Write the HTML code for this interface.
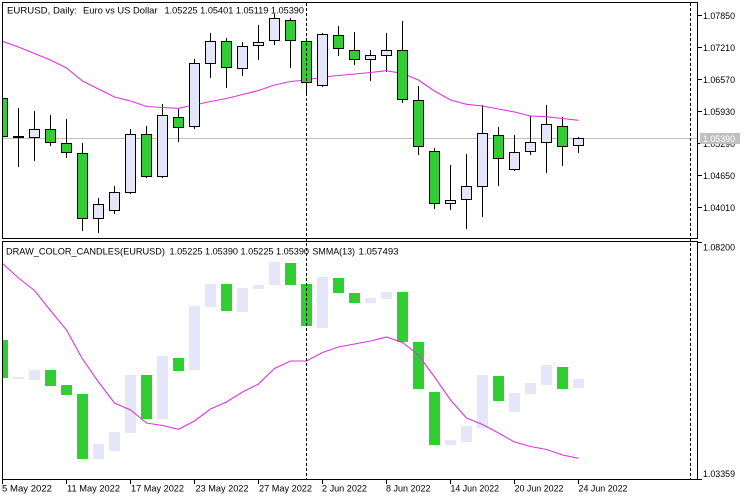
<!DOCTYPE html>
<html><head><meta charset="utf-8">
<style>
html,body{margin:0;padding:0;background:#fff;}
svg{display:block;}
text{font-family:"Liberation Sans",sans-serif;font-size:9.4px;fill:#000;white-space:pre;}
</style></head>
<body>
<svg width="750" height="500" viewBox="0 0 750 500" xmlns="http://www.w3.org/2000/svg">
<defs>
<clipPath id="c1"><rect x="2" y="2" width="696" height="237"/></clipPath>
<clipPath id="c2"><rect x="2" y="241" width="696" height="238"/></clipPath>
</defs>
<rect width="750" height="500" fill="#fff"/>

<!-- TOP PANE -->
<g clip-path="url(#c1)">
<line x1="2" y1="138.5" x2="697" y2="138.5" stroke="#c0c0c0" stroke-width="1"/>
<g stroke="#000" stroke-width="1" shape-rendering="crispEdges">
<!-- wicks -->
<line x1="18.5" y1="108" x2="18.5" y2="167"/>
<line x1="34.5" y1="111" x2="34.5" y2="161"/>
<line x1="50.5" y1="115" x2="50.5" y2="146"/>
<line x1="66.5" y1="119" x2="66.5" y2="158"/>
<line x1="82.5" y1="143" x2="82.5" y2="231"/>
<line x1="98.5" y1="198" x2="98.5" y2="233"/>
<line x1="114.5" y1="186" x2="114.5" y2="214"/>
<line x1="130.5" y1="129" x2="130.5" y2="194"/>
<line x1="146.5" y1="126" x2="146.5" y2="178"/>
<line x1="162.5" y1="104" x2="162.5" y2="178"/>
<line x1="178.5" y1="109" x2="178.5" y2="142"/>
<line x1="194.5" y1="59" x2="194.5" y2="129"/>
<line x1="210.5" y1="33" x2="210.5" y2="78"/>
<line x1="226.5" y1="38" x2="226.5" y2="88"/>
<line x1="242.5" y1="42" x2="242.5" y2="76"/>
<line x1="258.5" y1="25" x2="258.5" y2="60"/>
<line x1="274.5" y1="14" x2="274.5" y2="45"/>
<line x1="290.5" y1="18" x2="290.5" y2="68"/>
<line x1="306.5" y1="41" x2="306.5" y2="94"/>
<line x1="322.5" y1="33" x2="322.5" y2="87"/>
<line x1="338.5" y1="26" x2="338.5" y2="56"/>
<line x1="354.5" y1="32" x2="354.5" y2="65"/>
<line x1="370.5" y1="50" x2="370.5" y2="81"/>
<line x1="386.5" y1="33" x2="386.5" y2="72"/>
<line x1="402.5" y1="21" x2="402.5" y2="103"/>
<line x1="418.5" y1="86" x2="418.5" y2="155"/>
<line x1="434.5" y1="148" x2="434.5" y2="209"/>
<line x1="450.5" y1="165" x2="450.5" y2="210"/>
<line x1="466.5" y1="154" x2="466.5" y2="229"/>
<line x1="482.5" y1="105" x2="482.5" y2="217"/>
<line x1="498.5" y1="127" x2="498.5" y2="186"/>
<line x1="514.5" y1="135" x2="514.5" y2="171"/>
<line x1="530.5" y1="116" x2="530.5" y2="155"/>
<line x1="546.5" y1="105" x2="546.5" y2="173"/>
<line x1="562.5" y1="117" x2="562.5" y2="166"/>
<line x1="578.5" y1="137" x2="578.5" y2="153"/>
</g>
<polyline fill="none" stroke="#dd36dd" stroke-width="1.1" points="2.5,41.3 18.5,47 34.5,53.5 50.5,60 66.5,68 82.5,81 98.5,89 114.5,97 130.5,101 146.5,106.5 162.5,107.5 178.5,108.3 194.5,105 210.5,101.5 226.5,98.5 242.5,94.5 258.5,90.5 274.5,85 290.5,81.5 306.5,80 322.5,77 338.5,75.5 354.5,74 370.5,72.5 386.5,70.7 402.5,73.5 418.5,80 434.5,91 450.5,100 466.5,104.3 482.5,106 498.5,109 514.5,112 530.5,116 546.5,116.7 562.5,118.5 578.5,120.3"/>
<g stroke="#000" stroke-width="1" shape-rendering="crispEdges">
<rect x="-2.5" y="98.5" width="10" height="38" fill="#32cd32"/>
<rect x="13.5" y="136.5" width="10" height="1" fill="#000"/>
<rect x="29.5" y="129.5" width="10" height="8" fill="#e6e6fa"/>
<rect x="45.5" y="129.5" width="10" height="13" fill="#32cd32"/>
<rect x="61.5" y="143.5" width="10" height="9" fill="#32cd32"/>
<rect x="77.5" y="153.5" width="10" height="65" fill="#32cd32"/>
<rect x="93.5" y="204.5" width="10" height="14" fill="#e6e6fa"/>
<rect x="109.5" y="192.5" width="10" height="18" fill="#e6e6fa"/>
<rect x="125.5" y="134.5" width="10" height="58" fill="#e6e6fa"/>
<rect x="141.5" y="134.5" width="10" height="42" fill="#32cd32"/>
<rect x="157.5" y="115.5" width="10" height="61" fill="#e6e6fa"/>
<rect x="173.5" y="117.5" width="10" height="10" fill="#32cd32"/>
<rect x="189.5" y="63.5" width="10" height="63" fill="#e6e6fa"/>
<rect x="205.5" y="41.5" width="10" height="22" fill="#e6e6fa"/>
<rect x="221.5" y="41.5" width="10" height="26" fill="#32cd32"/>
<rect x="237.5" y="46.5" width="10" height="22" fill="#e6e6fa"/>
<rect x="253.5" y="42.5" width="10" height="3" fill="#e6e6fa"/>
<rect x="269.5" y="18.5" width="10" height="22" fill="#e6e6fa"/>
<rect x="285.5" y="20.5" width="10" height="20" fill="#32cd32"/>
<rect x="301.5" y="41.5" width="10" height="41" fill="#32cd32"/>
<rect x="317.5" y="34.5" width="10" height="51" fill="#e6e6fa"/>
<rect x="333.5" y="35.5" width="10" height="13" fill="#32cd32"/>
<rect x="349.5" y="50.5" width="10" height="9" fill="#32cd32"/>
<rect x="365.5" y="55.5" width="10" height="4" fill="#e6e6fa"/>
<rect x="381.5" y="50.5" width="10" height="5" fill="#e6e6fa"/>
<rect x="397.5" y="50.5" width="10" height="49" fill="#32cd32"/>
<rect x="413.5" y="100.5" width="10" height="46" fill="#32cd32"/>
<rect x="429.5" y="151.5" width="10" height="52" fill="#32cd32"/>
<rect x="445.5" y="200.5" width="10" height="3" fill="#e6e6fa"/>
<rect x="461.5" y="186.5" width="10" height="13" fill="#e6e6fa"/>
<rect x="477.5" y="133.5" width="10" height="53" fill="#e6e6fa"/>
<rect x="493.5" y="135.5" width="10" height="23" fill="#32cd32"/>
<rect x="509.5" y="152.5" width="10" height="17" fill="#e6e6fa"/>
<rect x="525.5" y="142.5" width="10" height="9" fill="#e6e6fa"/>
<rect x="541.5" y="124.5" width="10" height="18" fill="#e6e6fa"/>
<rect x="557.5" y="126.5" width="10" height="20" fill="#32cd32"/>
<rect x="573.5" y="138.5" width="10" height="7" fill="#e6e6fa"/>
</g>
</g>

<!-- LOWER PANE -->
<g clip-path="url(#c2)" shape-rendering="crispEdges">
<rect x="-3" y="340" width="11" height="38" fill="#32cd32"/>
<rect x="13" y="377" width="11" height="2" fill="#e6e6fa"/>
<rect x="29" y="370" width="11" height="10" fill="#e6e6fa"/>
<rect x="45" y="370" width="11" height="16" fill="#32cd32"/>
<rect x="61" y="385" width="11" height="10" fill="#32cd32"/>
<rect x="77" y="394" width="11" height="65" fill="#32cd32"/>
<rect x="93" y="444" width="11" height="15" fill="#e6e6fa"/>
<rect x="109" y="432" width="11" height="19" fill="#e6e6fa"/>
<rect x="125" y="375" width="11" height="58" fill="#e6e6fa"/>
<rect x="141" y="375" width="11" height="44" fill="#32cd32"/>
<rect x="157" y="356" width="11" height="63" fill="#e6e6fa"/>
<rect x="173" y="358" width="11" height="13" fill="#32cd32"/>
<rect x="189" y="306" width="11" height="64" fill="#e6e6fa"/>
<rect x="205" y="284" width="11" height="23" fill="#e6e6fa"/>
<rect x="221" y="284" width="11" height="27" fill="#32cd32"/>
<rect x="237" y="288" width="11" height="24" fill="#e6e6fa"/>
<rect x="253" y="285" width="11" height="4" fill="#e6e6fa"/>
<rect x="269" y="262" width="11" height="23" fill="#e6e6fa"/>
<rect x="285" y="263" width="11" height="22" fill="#32cd32"/>
<rect x="301" y="284" width="11" height="42" fill="#32cd32"/>
<rect x="317" y="277" width="11" height="51" fill="#e6e6fa"/>
<rect x="333" y="278" width="11" height="15" fill="#32cd32"/>
<rect x="349" y="293" width="11" height="10" fill="#32cd32"/>
<rect x="365" y="298" width="11" height="5" fill="#e6e6fa"/>
<rect x="381" y="292" width="11" height="7" fill="#e6e6fa"/>
<rect x="397" y="292" width="11" height="50" fill="#32cd32"/>
<rect x="413" y="342" width="11" height="47" fill="#32cd32"/>
<rect x="429" y="392" width="11" height="53" fill="#32cd32"/>
<rect x="445" y="440" width="11" height="5" fill="#e6e6fa"/>
<rect x="461" y="426" width="11" height="16" fill="#e6e6fa"/>
<rect x="477" y="375" width="11" height="53" fill="#e6e6fa"/>
<rect x="493" y="376" width="11" height="25" fill="#32cd32"/>
<rect x="509" y="393" width="11" height="19" fill="#e6e6fa"/>
<rect x="525" y="383" width="11" height="11" fill="#e6e6fa"/>
<rect x="541" y="365" width="11" height="20" fill="#e6e6fa"/>
<rect x="557" y="367" width="11" height="22" fill="#32cd32"/>
<rect x="573" y="379" width="11" height="9" fill="#e6e6fa"/>
</g>
<g clip-path="url(#c2)">
<polyline fill="none" stroke="#dd36dd" stroke-width="1.1" points="2.5,263.5 18.5,278 34.5,290.5 50.5,310.5 66.5,330 82.5,359 98.5,382 114.5,403 130.5,410 146.5,423 162.5,425.5 178.5,429.3 194.5,421 210.5,409 226.5,402 242.5,392 258.5,384 274.5,368.5 290.5,361 306.5,361 322.5,352.5 338.5,347 354.5,344 370.5,341 386.5,337 402.5,342.5 418.5,355 434.5,377 450.5,400 466.5,418 482.5,424.5 498.5,433 514.5,442 530.5,446.5 546.5,449.5 562.5,455 578.5,458.3"/>
</g>

<!-- dashed vertical lines -->
<g stroke="#000" stroke-width="1" stroke-dasharray="3,2" shape-rendering="crispEdges">
<line x1="306.5" y1="3" x2="306.5" y2="479"/>
<line x1="690.5" y1="3" x2="690.5" y2="479"/>
</g>

<!-- frames -->
<g fill="none" stroke="#000" stroke-width="1" shape-rendering="crispEdges">
<rect x="2.5" y="2.5" width="695" height="236"/>
<rect x="2.5" y="241.5" width="695" height="238"/>
</g>

<!-- right axis ticks -->
<g stroke="#000" stroke-width="1" shape-rendering="crispEdges">
<line x1="697" y1="15.5" x2="702" y2="15.5"/>
<line x1="697" y1="47.5" x2="702" y2="47.5"/>
<line x1="697" y1="79.5" x2="702" y2="79.5"/>
<line x1="697" y1="111.5" x2="702" y2="111.5"/>
<line x1="697" y1="143.5" x2="702" y2="143.5"/>
<line x1="697" y1="175.5" x2="702" y2="175.5"/>
<line x1="697" y1="207.5" x2="702" y2="207.5"/>
<line x1="697" y1="242.5" x2="702" y2="242.5"/>
<line x1="697" y1="479.5" x2="702" y2="479.5"/>
<!-- bottom ticks -->
<line x1="2.5" y1="479" x2="2.5" y2="484"/>
<line x1="66.5" y1="479" x2="66.5" y2="484"/>
<line x1="130.5" y1="479" x2="130.5" y2="484"/>
<line x1="194.5" y1="479" x2="194.5" y2="484"/>
<line x1="258.5" y1="479" x2="258.5" y2="484"/>
<line x1="322.5" y1="479" x2="322.5" y2="484"/>
<line x1="386.5" y1="479" x2="386.5" y2="484"/>
<line x1="450.5" y1="479" x2="450.5" y2="484"/>
<line x1="514.5" y1="479" x2="514.5" y2="484"/>
<line x1="578.5" y1="479" x2="578.5" y2="484"/>
</g>

<!-- right axis labels -->
<g>
<text x="703" y="19" textLength="32" lengthAdjust="spacingAndGlyphs">1.07850</text>
<text x="703" y="51" textLength="32" lengthAdjust="spacingAndGlyphs">1.07210</text>
<text x="703" y="83" textLength="32" lengthAdjust="spacingAndGlyphs">1.06570</text>
<text x="703" y="115" textLength="32" lengthAdjust="spacingAndGlyphs">1.05930</text>
<text x="703" y="147" textLength="32" lengthAdjust="spacingAndGlyphs">1.05290</text>
<text x="703" y="179" textLength="32" lengthAdjust="spacingAndGlyphs">1.04650</text>
<text x="703" y="211" textLength="32" lengthAdjust="spacingAndGlyphs">1.04010</text>
<text x="703" y="250.5" textLength="32" lengthAdjust="spacingAndGlyphs">1.08200</text>
<text x="703" y="477" textLength="32" lengthAdjust="spacingAndGlyphs">1.03359</text>
</g>
<rect x="700" y="133" width="40" height="11" fill="#c0c0c0"/>
<text x="703" y="142" textLength="32" lengthAdjust="spacingAndGlyphs" style="fill:#fff">1.05390</text>

<!-- headers -->
<text x="7" y="13.5" textLength="70" lengthAdjust="spacingAndGlyphs">EURUSD, Daily:</text>
<text x="83" y="13.5" textLength="74.5" lengthAdjust="spacingAndGlyphs">Euro vs US Dollar</text>
<text x="164.5" y="13.5" textLength="139.5" lengthAdjust="spacingAndGlyphs">1.05225 1.05401 1.05119 1.05390</text>

<text x="6" y="254.3" textLength="159" lengthAdjust="spacingAndGlyphs">DRAW_COLOR_CANDLES(EURUSD)</text>
<text x="169.5" y="254.3" textLength="139.5" lengthAdjust="spacingAndGlyphs">1.05225 1.05390 1.05225 1.05390</text>
<text x="312.5" y="254.3" textLength="42.5" lengthAdjust="spacingAndGlyphs">SMMA(13)</text>
<text x="358.5" y="254.3" textLength="40" lengthAdjust="spacingAndGlyphs">1.057493</text>

<!-- date labels -->
<g>
<text x="2" y="491.7" textLength="50" lengthAdjust="spacingAndGlyphs">5 May 2022</text>
<text x="67" y="491.7" textLength="53" lengthAdjust="spacingAndGlyphs">11 May 2022</text>
<text x="131" y="491.7" textLength="53" lengthAdjust="spacingAndGlyphs">17 May 2022</text>
<text x="195.5" y="491.7" textLength="53" lengthAdjust="spacingAndGlyphs">23 May 2022</text>
<text x="259" y="491.7" textLength="53" lengthAdjust="spacingAndGlyphs">27 May 2022</text>
<text x="322" y="491.7" textLength="45" lengthAdjust="spacingAndGlyphs">2 Jun 2022</text>
<text x="386" y="491.7" textLength="44.5" lengthAdjust="spacingAndGlyphs">8 Jun 2022</text>
<text x="450.5" y="491.7" textLength="48.5" lengthAdjust="spacingAndGlyphs">14 Jun 2022</text>
<text x="514.5" y="491.7" textLength="49" lengthAdjust="spacingAndGlyphs">20 Jun 2022</text>
<text x="578.5" y="491.7" textLength="49" lengthAdjust="spacingAndGlyphs">24 Jun 2022</text>
</g>
</svg>
</body></html>
